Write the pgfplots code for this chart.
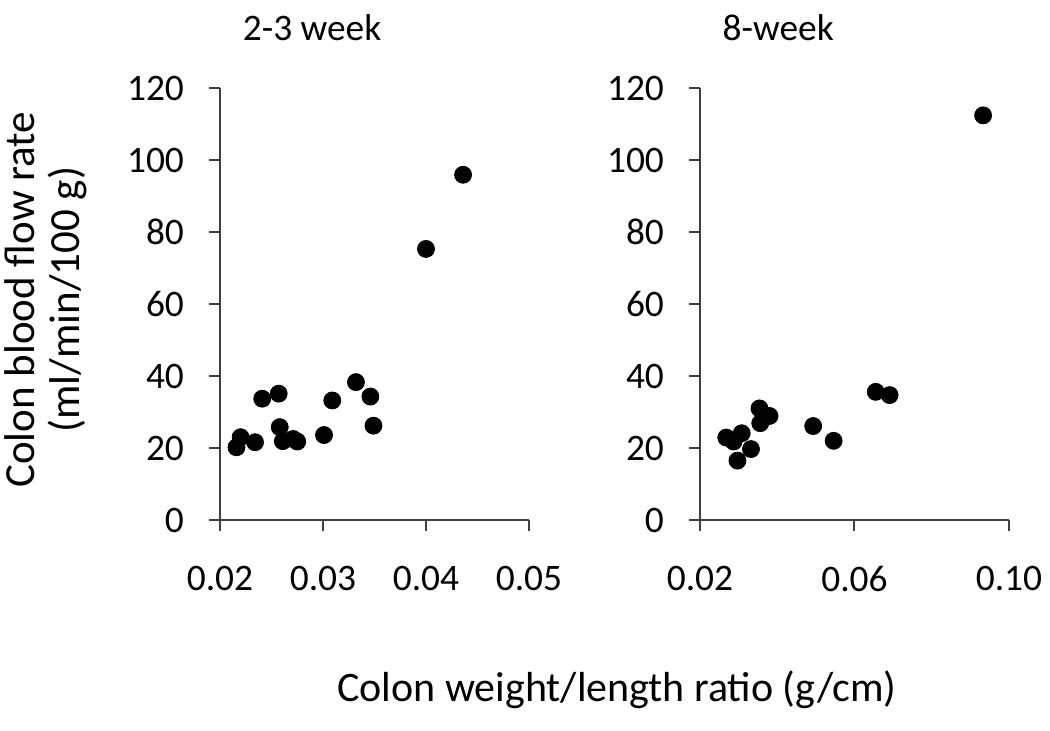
\documentclass[border=0pt]{standalone}
\usepackage{pgfplots}
\pgfplotsset{compat=1.18}
\usepackage{fontspec}
\setmainfont{Carlito}
\definecolor{axisgray}{HTML}{404040}
\pgfplotsset{
  myaxis/.style={
    scale only axis,
    width=154.5pt, height=216pt,
    axis x line=bottom, axis y line=left,
    axis line style={draw=axisgray, line width=1pt, -},
    tick style={draw=axisgray, line width=1pt},
    tick align=outside,
    major tick length=5.5pt,
    ymin=0, ymax=120, ytick={0,20,...,120},
    /pgf/number format/assume math mode=true,
    ticklabel style={font=\fontsize{18.7}{21}\selectfont, black},
    xticklabel style={/pgf/number format/fixed, /pgf/number format/fixed zerofill, /pgf/number format/precision=2, yshift=-14pt},
    yticklabel style={xshift=-9pt},
    scaled x ticks=false,
    clip=false,
    title style={font=\fontsize{18.7}{21}\selectfont, anchor=center},
  }
}
\begin{document}
\begin{tikzpicture}
\path[use as bounding box] (0,0) rectangle (525pt,365pt);
\begin{axis}[myaxis, at={(110pt,105pt)}, anchor=south west,
  xmin=0.02, xmax=0.05, xtick={0.02,0.03,0.04,0.05},
  title={2-3 week}, title style={at={(rel axis cs:0.298,1.113)}},
  ylabel={Colon blood flow rate\\(ml/min/100 g)},
  ylabel style={at={(axis description cs:-0.565,0.51)}, anchor=center, align=center, font=\fontsize{21.5}{22.5}\selectfont},
  xlabel={Colon weight/length ratio (g/cm)},
  xlabel style={at={(axis description cs:1.285,-0.394)}, anchor=center, font=\fontsize{21}{23}\selectfont},
]
\addplot[only marks, mark=*, mark size=4.25pt, mark options={fill=black, draw=black}] coordinates {
(0.0216,20.2) (0.0220,23.0) (0.0234,21.6) (0.0241,33.7) (0.0257,35.1)
(0.0258,25.8) (0.0261,21.9) (0.0271,22.5) (0.0275,21.8) (0.0301,23.6)
(0.0309,33.2) (0.0332,38.3) (0.0346,34.3) (0.0349,26.2) (0.0400,75.3)
(0.0436,95.9)
};
\end{axis}
\begin{axis}[myaxis, at={(350pt,105pt)}, anchor=south west,
  xmin=0.02, xmax=0.10, xtick={0.02,0.06,0.10},
  title={8-week}, title style={at={(rel axis cs:0.253,1.113)}},
]
\addplot[only marks, mark=*, mark size=4.25pt, mark options={fill=black, draw=black}] coordinates {
(0.0268,22.9) (0.0287,21.8) (0.0308,24.1) (0.0297,16.5) (0.0332,19.7)
(0.0354,31.0) (0.0356,26.9) (0.0380,28.9) (0.0493,26.1) (0.0546,22.0)
(0.0655,35.6) (0.0691,34.7) (0.0933,112.4)
};
\end{axis}
\end{tikzpicture}
\end{document}
